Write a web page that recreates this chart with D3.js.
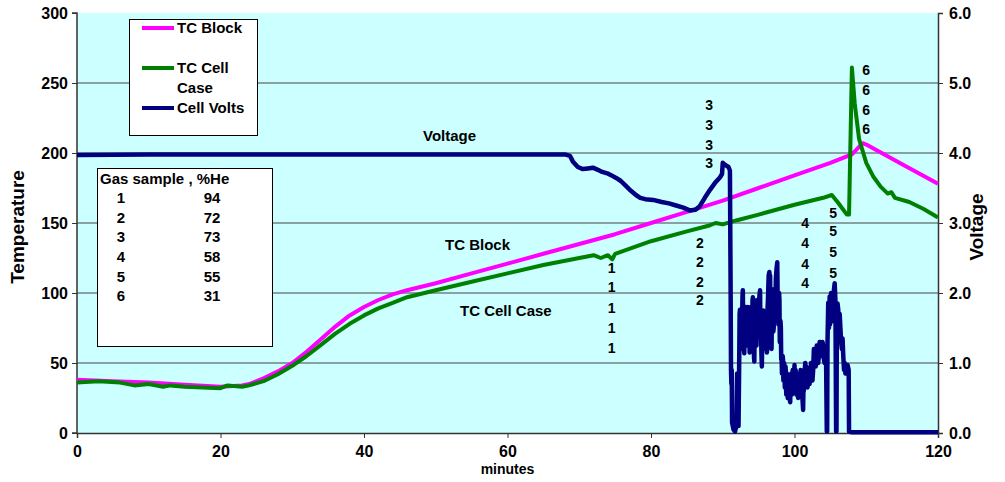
<!DOCTYPE html>
<html>
<head>
<meta charset="utf-8">
<script src="https://cdn.jsdelivr.net/npm/d3@7"></script>
<style>
  body { margin: 0; background: #fff; }
  text { font-family: Arial, "Liberation Sans", sans-serif; font-weight: bold; fill: #000; }
</style>
</head>
<body>
<script>
// minutes, degrees
var tcBlock = [[0,38],[5,37],[10,36],[15,34.5],[20,33],[23,34],[24,35],[26,39],[28,44],[30,50],[32,58],[34,67],[36,76],[38,84],[40,90],[42,95],[44,99],[46,102],[50,107],[55,114],[60,121],[65,128],[70,135],[75,142],[80,150],[85,158],[90,166],[95,175],[100,184],[105,193],[108,199],[109.5,207],[110,206],[115,192],[120,178]];

var tcCellCase = [[0,36],[3,37],[6,36],[8,34],[10,35],[12,33],[13,34],[15,33],[20,32],[21,34],[23,33],[24,34],[26,37],[28,42],[30,48],[32,55],[34,63],[36,71],[38,78],[40,84],[42,89],[44,93],[46,97],[50,102],[55,108],[60,114],[65,120],[70,125],[72,127],[73,125],[74,127],[74.6,124],[75,128],[80,137],[85,144],[88,148],[89,150],[90,149],[92,152],[95,156],[100,163],[104,168],[105.2,170],[106,165],[107.3,156],[107.6,156],[108,261],[108.4,235],[109,210],[110,193],[111,183],[112,176],[113,171],[113.5,172],[114,168],[116,165],[118,160],[120,154]];

// minutes, volts
var cellVolts = [[0,3.97],[10,3.98],[20,3.98],[30,3.98],[40,3.98],[50,3.98],[60,3.98],[68,3.98],[68.7,3.96],[69.1,3.88],[69.8,3.80],[70.5,3.77],[71.2,3.78],[71.9,3.79],[72.6,3.76],[73.2,3.73],[73.9,3.71],[74.5,3.68],[75.2,3.64],[75.8,3.60],[76.5,3.53],[77.2,3.46],[77.9,3.40],[78.5,3.36],[79.2,3.34],[80.3,3.33],[81.5,3.30],[82.5,3.28],[83.5,3.25],[84.5,3.22],[85.4,3.18],[86.2,3.19],[86.8,3.24],[87.5,3.36],[88.2,3.47],[88.9,3.57],[89.6,3.65],[89.9,3.70],[90.0,3.86],[90.2,3.84],[90.5,3.82],[90.8,3.80],[91.0,3.75],[91.1,2.0],[91.15,0.9],[91.2,0.7],[91.25,0.9],[91.3,0.15],[91.5,0.05],[91.7,0.02],[91.9,0.10],[92.0,0.85],[92.1,0.55],[92.2,0.1],[92.3,1.1],[92.35,1.7],[92.4,1.76],[92.45,1.3],[92.5,1.5],[92.55,1.25],[92.6,1.2],[92.65,1.7],[92.7,1.65],[92.75,1.95],[92.8,2.04],[92.85,1.5],[92.9,1.6],[92.95,1.3],[93.0,1.14],[93.05,1.6],[93.1,1.45],[93.2,1.8],[93.25,1.4],[93.3,1.75],[93.35,1.25],[93.4,1.35],[93.5,1.8],[93.55,1.4],[93.6,1.7],[93.65,1.3],[93.7,1.55],[93.75,1.15],[93.8,1.2],[93.85,1.7],[93.9,1.55],[93.95,1.3],[94.0,1.8],[94.05,1.35],[94.1,1.4],[94.15,1.9],[94.2,1.94],[94.25,1.45],[94.3,1.6],[94.35,1.1],[94.4,1.02],[94.45,1.5],[94.5,1.3],[94.55,1.7],[94.6,1.75],[94.7,1.25],[94.8,1.9],[94.85,1.4],[94.9,1.45],[94.95,1.85],[95.0,1.7],[95.1,1.95],[95.2,2.04],[95.25,1.5],[95.3,1.6],[95.4,1.1],[95.45,0.95],[95.5,1.3],[95.6,1.4],[95.65,1.75],[95.7,1.6],[95.75,1.2],[95.8,1.3],[95.85,1.65],[95.9,1.55],[95.95,1.25],[96.0,1.45],[96.05,1.7],[96.1,1.6],[96.15,1.15],[96.2,1.2],[96.25,1.8],[96.3,1.9],[96.4,2.25],[96.5,2.3],[96.55,1.9],[96.6,2.25],[96.65,1.6],[96.7,1.8],[96.75,1.3],[96.8,1.2],[96.85,1.7],[96.9,1.65],[96.95,2.05],[97.0,2.0],[97.05,1.45],[97.1,1.5],[97.15,1.95],[97.2,1.9],[97.3,1.6],[97.4,2.2],[97.5,2.35],[97.6,2.44],[97.65,1.9],[97.7,2.0],[97.75,1.55],[97.8,1.6],[97.85,2.0],[97.9,1.9],[97.95,1.3],[98.0,1.37],[98.05,1.6],[98.1,1.5],[98.15,1.05],[98.2,1.1],[98.25,0.85],[98.3,0.94],[98.35,1.1],[98.4,1.05],[98.45,0.75],[98.5,0.8],[98.55,1.0],[98.6,0.95],[98.65,0.65],[98.7,0.7],[98.75,0.95],[98.8,0.85],[98.85,0.55],[98.9,0.6],[98.95,0.85],[99.0,0.75],[99.05,0.5],[99.1,0.55],[99.15,0.8],[99.2,0.7],[99.3,0.5],[99.4,0.44],[99.45,0.75],[99.5,0.65],[99.55,0.85],[99.6,0.8],[99.65,0.55],[99.7,0.6],[99.75,0.9],[99.8,0.9],[99.9,0.7],[100.0,0.97],[100.05,0.65],[100.1,0.7],[100.15,0.9],[100.2,0.85],[100.25,0.55],[100.3,0.6],[100.35,0.85],[100.4,0.75],[100.5,0.5],[100.6,0.55],[100.65,0.8],[100.7,0.8],[100.75,0.6],[100.8,0.65],[100.85,0.9],[100.9,0.85],[100.95,0.6],[101.0,0.7],[101.1,0.5],[101.2,0.33],[101.25,0.65],[101.3,0.6],[101.35,0.9],[101.4,0.85],[101.5,1.0],[101.55,0.7],[101.6,0.75],[101.65,0.95],[101.7,0.9],[101.8,0.65],[101.9,0.7],[101.95,0.9],[102.0,0.85],[102.1,0.7],[102.2,0.8],[102.3,1.0],[102.4,0.95],[102.5,0.75],[102.6,0.9],[102.7,1.2],[102.8,1.15],[102.9,1.19],[102.95,0.95],[103.0,1.0],[103.1,1.25],[103.2,1.2],[103.3,1.0],[103.4,1.1],[103.5,1.3],[103.6,1.3],[103.7,1.1],[103.8,1.2],[103.9,1.3],[104.0,1.25],[104.1,1.05],[104.2,1.0],[104.3,1.15],[104.4,1.05],[104.5,0.02],[104.55,0.02],[104.6,1.3],[104.7,1.86],[104.8,1.5],[104.9,1.95],[104.95,1.55],[105.0,1.6],[105.1,2.0],[105.2,1.7],[105.3,1.9],[105.4,1.6],[105.5,2.05],[105.6,2.14],[105.7,1.9],[105.8,0.02],[105.85,0.02],[105.9,1.5],[106.0,1.85],[106.1,1.76],[106.15,1.45],[106.2,1.4],[106.3,1.7],[106.4,1.5],[106.5,1.3],[106.6,1.2],[106.7,1.35],[106.8,1.1],[106.9,0.9],[107.0,1.0],[107.1,0.85],[107.2,0.95],[107.3,0.9],[107.4,0.97],[107.55,0.9],[107.6,0.02],[108,0.01],[120,0.01]];

var xTicks = [0,20,40,60,80,100,120];
var tempTicks = [0,50,100,150,200,250,300];
var voltTicks = [0,1,2,3,4,5,6];

var gasSamples = ["1","2","3","4","5","6"];
var heliumPct = ["94","72","73","58","55","31"];

// sample-number columns written on the plot: [label, minute, temps]
var sampleMarks = [
  ["1", 74.5, [118,104,89,75,61]],
  ["2", 86.8, [136,122,108,95]],
  ["3", 88.1, [234,220,206,193]],
  ["4", 101.5, [150,136,121,107]],
  ["5", 105.4, [157,144,129,114]],
  ["6", 110, [259,245,231,217]]
];

var legendItems = [
  {name:["TC Block"], color:"#FF00FF"},
  {name:["TC Cell","Case"], color:"#008000"},
  {name:["Cell Volts"], color:"#000080"}
];

var width = 1005, height = 482;
var margins = {top:13, bottom:49, left:77, right:67};

var svg = d3.select("body").append("svg")
  .attr("width", width)
  .attr("height", height);

var x = d3.scaleLinear().domain([0,120]).range([margins.left, width-margins.right]);
var yT = d3.scaleLinear().domain([0,300]).range([height-margins.bottom, margins.top]);
var yV = d3.scaleLinear().domain([0,6]).range([height-margins.bottom, margins.top]);

// plot area
svg.append("rect")
  .attr("x", x(0)).attr("y", yT(300))
  .attr("width", x(120)-x(0)).attr("height", yT(0)-yT(300))
  .attr("fill", "#CCFFFF");

// gridlines
svg.append("g").selectAll("line")
  .data(tempTicks.filter(function(d){ return d>0 && d<300; }))
  .enter().append("line")
  .attr("x1", x(0)).attr("x2", x(120))
  .attr("y1", function(d){ return yT(d); })
  .attr("y2", function(d){ return yT(d); })
  .attr("stroke", "#444").attr("stroke-width", 1);

// axes
var leftAxis = svg.append("g")
  .attr("transform", "translate(" + x(0) + ",0)")
  .call(d3.axisLeft(yT).tickValues(tempTicks).tickSize(5).tickPadding(4));
var rightAxis = svg.append("g")
  .attr("transform", "translate(" + x(120) + ",0)")
  .call(d3.axisRight(yV).tickValues(voltTicks).tickFormat(d3.format(".1f")).tickSize(5).tickPadding(6));
var bottomAxis = svg.append("g")
  .attr("transform", "translate(0," + yT(0) + ")")
  .call(d3.axisBottom(x).tickValues(xTicks).tickSize(5).tickPadding(8));

[leftAxis, rightAxis, bottomAxis].forEach(function(a){
  a.select(".domain").attr("stroke", "#333").attr("stroke-width", 1.5);
  a.selectAll(".tick line").attr("stroke", "#333");
  a.selectAll("text").style("font-size", "16px").style("font-weight", "bold")
    .style("font-family", "Arial, 'Liberation Sans', sans-serif").attr("fill", "#000");
});
leftAxis.select(".domain").attr("d", "M-5," + yT(300) + "H0V" + yT(0) + "H-5");

// series
var lineT = d3.line().x(function(d){ return x(d[0]); }).y(function(d){ return yT(d[1]); });
var lineV = d3.line().x(function(d){ return x(d[0]); }).y(function(d){ return yV(d[1]); });

svg.append("path").datum(tcBlock).attr("d", lineT)
  .attr("fill", "none").attr("stroke", "#FF00FF").attr("stroke-width", 4).attr("stroke-linejoin", "round");
svg.append("path").datum(tcCellCase).attr("d", lineT)
  .attr("fill", "none").attr("stroke", "#008000").attr("stroke-width", 4).attr("stroke-linejoin", "round");
svg.append("path").datum(cellVolts).attr("d", lineV)
  .attr("fill", "none").attr("stroke", "#000080").attr("stroke-width", 4.5).attr("stroke-linejoin", "round");

// axis titles
svg.append("text")
  .attr("transform", "translate(24," + (yT(150)+4) + ") rotate(-90)")
  .attr("text-anchor", "middle").style("font-size", "19px").text("Temperature");
svg.append("text")
  .attr("transform", "translate(983," + (yT(150)+4) + ") rotate(-90)")
  .attr("text-anchor", "middle").style("font-size", "19px").text("Voltage");
svg.append("text")
  .attr("x", x(60)).attr("y", 474)
  .attr("text-anchor", "middle").style("font-size", "14px").text("minutes");

// in-plot labels
svg.append("text").attr("x", 423).attr("y", 141).style("font-size", "15px").text("Voltage");
svg.append("text").attr("x", 445).attr("y", 250).style("font-size", "15px").text("TC Block");
svg.append("text").attr("x", 460).attr("y", 316).style("font-size", "15px").text("TC Cell Case");

sampleMarks.forEach(function(s){
  s[2].forEach(function(t){
    svg.append("text")
      .attr("x", x(s[1])).attr("y", yT(t))
      .attr("text-anchor", "middle").attr("dy", "0.35em")
      .style("font-size", "14px").text(s[0]);
  });
});

// legend
var legend = svg.append("g");
legend.append("rect")
  .attr("x", 129.5).attr("y", 19.5).attr("width", 128).attr("height", 116)
  .attr("fill", "#fff").attr("stroke", "#000").attr("stroke-width", 1);
var legendY = [28, 68, 108];
legendItems.forEach(function(item, i){
  legend.append("line")
    .attr("x1", 142).attr("x2", 174)
    .attr("y1", legendY[i]).attr("y2", legendY[i])
    .attr("stroke", item.color).attr("stroke-width", 4);
  item.name.forEach(function(n, j){
    legend.append("text")
      .attr("x", 177).attr("y", legendY[i] + j*20)
      .attr("dy", "0.35em").style("font-size", "15px").text(n);
  });
});

// gas sample table
var gas = svg.append("g");
gas.append("rect")
  .attr("x", 97.5).attr("y", 168.5).attr("width", 175).attr("height", 178)
  .attr("fill", "#fff").attr("stroke", "#000").attr("stroke-width", 1);
gas.append("text").attr("x", 100).attr("y", 179).attr("dy", "0.35em")
  .style("font-size", "15px").text("Gas sample , %He");
gasSamples.forEach(function(g, i){
  gas.append("text").attr("x", 121).attr("y", 198 + i*19.6).attr("dy", "0.35em")
    .attr("text-anchor", "middle").style("font-size", "15px").text(g);
  gas.append("text").attr("x", 212).attr("y", 198 + i*19.6).attr("dy", "0.35em")
    .attr("text-anchor", "middle").style("font-size", "15px").text(heliumPct[i]);
});
</script>
</body>
</html>
